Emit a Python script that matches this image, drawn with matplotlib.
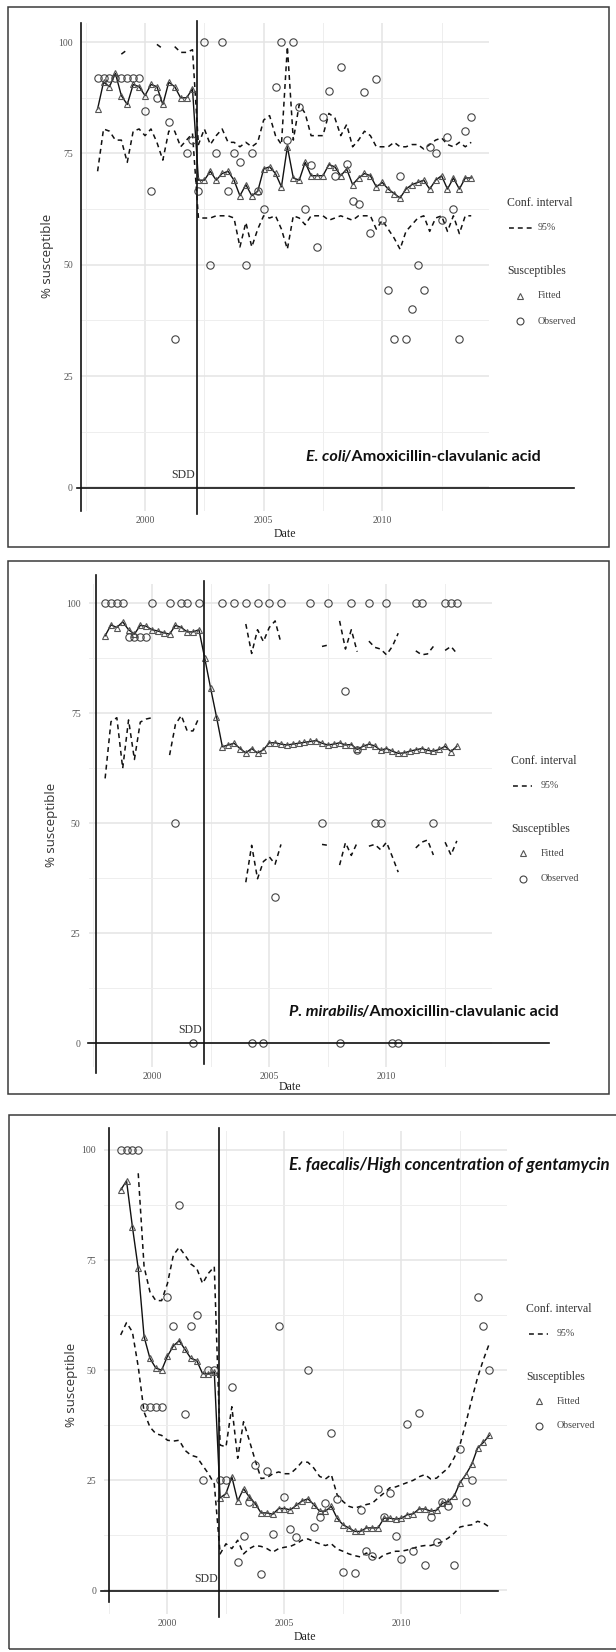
import numpy as np
import matplotlib
matplotlib.use("Agg")
import matplotlib.pyplot as plt
from matplotlib.lines import Line2D
from matplotlib.patches import Rectangle

W, H = 616, 1652
nan = np.nan

# quarterly time axis
quarters = 1998 + 0.25 * np.arange(64)
sdd_date = 2002.2

# E. coli / amoxicillin-clavulanic acid
ecoli_fitted = [85, 91, 90, 93, 88, 86, 90.5, 90, 88, 90.5, 90, 86, 91, 90, 87.5, 87.5, 89.5,
                69, 69, 71, 69, 70.5, 71, 69, 65.5, 68, 65.5, 66.5, 71.5, 72, 70.5, 67.5,
                76.5, 69.5, 69, 73, 70, 70, 70, 72.5, 72, 70, 71.5, 68, 69.5, 70.5, 70, 67.5,
                68.5, 67, 66, 65, 67, 68, 68.5, 69, 67, 69, 70, 67, 69.5, 67, 69.5, 69.5]
ecoli_upper = [nan, nan, nan, nan, 97.3, 98.3, nan, nan, nan, nan, 99.5, 98.5, nan, 99, 97.7, 97.7, 98.3,
               77, 80.5, 77, 79, 80.5, 77.5, 77.5, 76.5, 77.5, 76.5, 77.5, 82.5, 83.5, 79, 77,
               99, 78, 86, 84, 79, 79, 79, 84, 83, 79, 81.5, 76.5, 78, 80, 79, 76.5,
               76.5, 76.5, 77.5, 76.5, 76.5, 77, 77, 76, 77, 78, 78.5, 77, 76.5, 77.5, 76.5, 77.5]
ecoli_lower = [71, 80.5, 80, 78, 78, 73, 80, 80.5, 79, 80.5, 77.5, 73.5, 80, 80, 76.5, 78, 79.5,
               60.5, 60.5, 60.5, 61, 61, 61, 60.5, 54, 59.5, 54, 58, 61, 60.5, 61, 58,
               53.5, 61, 60.5, 59, 61, 61, 61, 60, 60.5, 61, 60.5, 60, 61, 61, 61, 58,
               60, 58, 56, 53.5, 57.5, 59, 60.5, 61, 57.5, 60.5, 61, 57.5, 61, 57, 61, 61]
ecoli_observed = [92, 92, 92, 92, 92, 92, 92, 92, 84.5, 66.5, 87.5, nan, 82, 33.3, nan, 75, 78,
                  66.5, 100, 50, 75, 100, 66.5, 75, 73, 50, 75, 66.5, 62.5, nan, 90, 100,
                  78, 100, 85.5, 62.5, 72.5, 54, 83.3, 89, 70, 94.4, 72.7, 64.3, 63.6, 88.9, 57.1, 91.7,
                  60, 44.4, 33.3, 70, 33.3, 40, 50, 44.4, 76.5, 75, 60, 78.6, 62.5, 33.3, 80, 83.3]

# P. mirabilis / amoxicillin-clavulanic acid (1998.0 - 2013.0)
pmir_fitted = [92.6, 95.1, 94.5, 95.8, 94, 93, 95, 94.8, 94, 93.7, 93.3, 93, 95, 94.5, 93.5, 93.5,
               94, 87.5, 80.7, 74.2, 67.4, 67.8, 68.2, 67, 66, 67, 66, 66.7, 68.3, 68.3, 68, 67.8,
               68, 68.2, 68.4, 68.6, 68.8, 68.2, 67.8, 68, 68.3, 67.8, 67.9, 66.8, 67.5, 68, 67.6, 66.6,
               67, 66.4, 65.9, 66, 66.4, 66.7, 67, 66.6, 66.4, 66.8, 67.5, 66.3, 67.5]
pmir_upper = [nan] * 24 + [95.3, 88.6, 94, 91.3, 94.5, 96, 91, nan, nan, nan, nan, nan,
                           nan, 90.2, 90.5, nan, 96, 89.6, 94, 89, nan, 91.4, 90, 89.6,
                           88.3, 90.2, 93.2, nan, nan, 89.2, 88.3, 88.5, 90.2, nan, 89.3, 90.2, 88.6]
pmir_lower = [60.2, 73.1, 74, 62.5, 73.5, 64.5, 73, 73.7, 74, nan, nan, 65.5, 72.5, 74.5, 71, 71,
              74, nan, nan, nan, nan, nan, nan, nan, 36.6, 45, 37.4, 41.3, 42.4, 40.7, 45.2, nan,
              nan, nan, nan, nan, nan, 45.2, 45, nan, 40.5, 45.6, 42.7, 45.6, nan, 44.8, 45.2, 44,
              45.7, 42.4, 38.9, nan, nan, 44.4, 45.7, 46.2, 42.8, nan, 45.7, 42.8, 46]
pmir_observed = [100, 100, 100, 100, 92.3, 92.3, 92.3, 92.3, 100, nan, nan, 100, 50, 100, 100, 0,
                 100, nan, nan, nan, 100, nan, 100, nan, 100, 0, 100, 0, 100, 33.3, 100, nan,
                 nan, nan, nan, 100, nan, 50, 100, nan, 0, 80, 100, 66.7, nan, 100, 50, 50,
                 100, 0, 0, nan, nan, 100, 100, nan, 50, nan, 100, 100, 100]

# E. faecalis / high concentration of gentamycin
efae_fitted = [90.9, 93, 82.6, 73.1, 57.6, 52.7, 50.5, 50, 53.2, 55.5, 56.7, 54.7, 52.7, 52.2, 49.2, 49.2,
               49.6, 21, 22, 25.8, 20.3, 23.1, 21.2, 19.7, 17.6, 17.6, 17.3, 18.6, 18.6, 18.3, 19.3, 20.3,
               20.8, 19.5, 18, 18, 19.1, 16.4, 14.9, 14.2, 13.4, 13.4, 14.2, 14.2, 14.2, 16.4, 16.4, 16.2,
               16.4, 17.2, 17.4, 18.5, 18.5, 18, 18.2, 19.8, 20.2, 21.4, 24.5, 26.3, 28.6, 32.3, 33.6, 35.2]
efae_upper = [nan, nan, nan, 94.7, 73.5, 67.8, 65.8, 65.8, 69.7, 76.1, 77.9, 76.1, 74.1, 73.1, 69.7, 72,
              73.5, 33, 32.6, 41.7, 30, 38.3, 34, 29.5, 25.4, 25.6, 26.5, 26.9, 26.5, 26.5, 27.7, 29.2,
              29.1, 27.8, 25.9, 25.3, 26.3, 21.7, 20.2, 19.1, 18.7, 19.1, 19.5, 19.8, 21, 22.1, 23.3, 23.5,
              24, 24.5, 25, 25.8, 26.3, 25.3, 25.5, 26.7, 27.8, 30.1, 33.1, 38, 43.3, 48.3, 52.4, 56]
efae_lower = [58, 60.8, 58.7, 50.8, 40.5, 37.1, 35.6, 35.2, 34.1, 33.9, 34.1, 31.8, 30.7, 30.3, 28.4, 26.5,
              24.2, 8.3, 10.6, 9.5, 11.4, 8.3, 9.5, 10.2, 10, 9.5, 8.7, 9.5, 9.8, 10, 10.6, 11.4,
              11.7, 11.1, 10.6, 10.2, 10.6, 9.4, 8.9, 8.3, 7.9, 7.6, 8.5, 7.7, 7.1, 8.1, 8.5, 8.9,
              8.9, 9.2, 9.6, 10, 10.2, 10.2, 10.6, 11.1, 11.9, 13, 14.4, 14.7, 14.9, 15.7, 15.3, 14.4]
efae_observed = [100, 100, 100, 100, 41.7, 41.7, 41.7, 41.7, 66.7, 60, 87.5, 40, 60, 62.5, 25, 50,
                 50, 25, 25, 46.1, 6.4, 12.3, 20, 28.4, 3.8, 27.1, 12.9, 60, 21.2, 14, 12.1, nan,
                 50, 14.4, 16.7, 19.8, 35.8, 20.8, 4.1, nan, 3.9, 18.2, 8.9, 7.9, 23, 16.7, 22.1, 12.4,
                 7.1, 37.7, 8.9, 40.2, 5.8, 16.7, 11.1, 20, 19.1, 5.8, 32, 20, 25, 66.7, 60, 50]

SERIF = "Liberation Serif"

fig = plt.figure(figsize=(W / 100, H / 100), dpi=100)


def fx(x):
    return x / W


def fy(y):
    return 1 - y / H


def fig_line(x0, y0, x1, y1, **kw):
    fig.add_artist(Line2D([fx(x0), fx(x1)], [fy(y0), fy(y1)], transform=fig.transFigure, **kw))


def fig_text(x, y, s, **kw):
    return fig.text(fx(x), fy(y), s, **kw)


def draw_panel(p, fitted, upper, lower, observed):
    # outer frame
    l, t, r, b = p["frame"]
    fig.add_artist(Rectangle((fx(l), fy(b)), (r - l) / W, (b - t) / H, transform=fig.transFigure,
                             fill=False, ec="#3a3a3a", lw=1.1))
    l, t, r, b = p["axes"]
    ax = fig.add_axes([fx(l), fy(b), (r - l) / W, (b - t) / H])
    n = len(fitted)
    x = quarters[:n]
    ax.plot(x, upper, color="#111111", lw=1.1, ls=(0, (3.2, 2.6)))
    ax.plot(x, lower, color="#111111", lw=1.1, ls=(0, (3.2, 2.6)))
    ax.plot(x, fitted, color="#111111", lw=1.0, marker="^", ms=5, mfc="none", mec="#555555", mew=0.8)
    ax.plot(x, observed, ls="none", marker="o", ms=5.3, mfc="none", mec="#444444", mew=0.8, clip_on=False)
    ax.plot([sdd_date, sdd_date], p["sdd_y"], color="#111111", lw=1.2, clip_on=False)

    ax.set_xlim(1997.3, 2014.5)
    ax.set_ylim(-5.3, 104.3)
    ax.set_xticks([2000, 2005, 2010])
    ax.set_xticks([1997.5, 2002.5, 2007.5, 2012.5], minor=True)
    ax.set_yticks([0, 25, 50, 75, 100])
    ax.set_yticks([12.5, 37.5, 62.5, 87.5], minor=True)
    ax.grid(which="major", color="#e4e4e4", lw=1.1)
    ax.grid(which="minor", color="#eeeeee", lw=0.7)
    ax.set_axisbelow(True)
    for s in ax.spines.values():
        s.set_visible(False)
    ax.tick_params(which="both", length=0, labelcolor="#555555", labelsize=7)
    ax.tick_params(axis="y", pad=5.8)
    ax.tick_params(axis="x", pad=3.8)
    for lab in ax.get_xticklabels() + ax.get_yticklabels():
        lab.set_fontfamily(SERIF)

    # hand-drawn axis lines
    xa, ya0, ya1 = p["yline"]
    fig_line(xa, ya0, xa, ya1, color="#111111", lw=1.2)
    yb, xb0, xb1 = p["xline"]
    fig_line(xb0, yb, xb1, yb, color="#111111", lw=1.2)

    fig_text(*p["date"], "Date", family=SERIF, fontsize=8.5, color="#222222", ha="center", va="center")
    fig_text(*p["ylab"], "% susceptible", family="Open Sans", fontsize=9.5, color="#333333",
             rotation=90, ha="center", va="center")
    fig_text(*p["sdd"], "SDD", family=SERIF, fontsize=8.5, color="#333333", ha="right", va="center")

    # legend
    lg = p["legend"]
    tx = lg["x"]
    fig_text(tx, lg["conf"], "Conf. interval", family=SERIF, fontsize=8.5, color="#333333", va="center")
    fig_line(lg["k0"], lg["ci"], lg["k1"], lg["ci"], color="#111111", lw=1.1, ls=(0, (3.2, 2.6)))
    fig_text(lg["lab"], lg["ci"], "95%", family=SERIF, fontsize=7.2, color="#444444", va="center")
    fig_text(tx, lg["sus"], "Susceptibles", family=SERIF, fontsize=8.5, color="#333333", va="center")
    fig.add_artist(Line2D([fx(lg["m"])], [fy(lg["fit"])], transform=fig.transFigure, ls="none",
                          marker="^", ms=5, mfc="none", mec="#555555", mew=0.8))
    fig_text(lg["lab"], lg["fit"], "Fitted", family=SERIF, fontsize=7.2, color="#444444", va="center")
    fig.add_artist(Line2D([fx(lg["m"])], [fy(lg["obs"])], transform=fig.transFigure, ls="none",
                          marker="o", ms=5, mfc="none", mec="#444444", mew=0.8))
    fig_text(lg["lab"], lg["obs"], "Observed", family=SERIF, fontsize=7.2, color="#444444", va="center")

    # title annotation
    ax_x, ax_y = p["title_xy"]
    renderer = fig.canvas.get_renderer()
    cur = ax_x
    for txt, style in p["title"]:
        t = fig_text(cur, ax_y, txt, family="Lato", weight="bold", style=style, fontsize=p["title_size"],
                     color="#111111", va="center")
        bb = t.get_window_extent(renderer)
        cur = bb.x1 - 2
    return ax


panels = [
    dict(frame=(8, 7, 609, 547), axes=(81, 23, 489, 511), sdd_y=(-6, 104.8),
         yline=(81, 23, 511), xline=(487.5, 77, 574),
         date=(285, 534), ylab=(47, 256), sdd=(195, 475),
         legend=dict(x=507, conf=203, ci=228, sus=271, fit=296, obs=321, k0=509, k1=532, m=519.5, lab=538),
         title_xy=(306, 457), title_size=11.6,
         title=[("E. coli", "italic"), ("/Amoxicillin-clavulanic acid", "normal")]),
    dict(frame=(8, 561, 609, 1094), axes=(88.7, 584.4, 492, 1066.6), sdd_y=(-4.7, 105),
         yline=(95.5, 575, 1073), xline=(1043.3, 88, 549),
         date=(290, 1087), ylab=(51, 825), sdd=(202, 1030),
         legend=dict(x=511, conf=761, ci=786, sus=829, fit=853, obs=878.5, k0=513, k1=532, m=522.6, lab=541),
         title_xy=(289, 1012), title_size=11.6,
         title=[("P. mirabilis", "italic"), ("/Amoxicillin-clavulanic acid", "normal")]),
    dict(frame=(9, 1115, 630, 1649), axes=(104.3, 1131, 506.8, 1613.8), sdd_y=(-6, 105),
         yline=(109, 1127.5, 1602), xline=(1590.5, 101, 498),
         date=(305, 1637), ylab=(71, 1385), sdd=(218, 1579),
         legend=dict(x=526, conf=1309, ci=1333.5, sus=1377, fit=1401, obs=1426, k0=528.5, k1=548, m=539, lab=557),
         title_xy=(289, 1165), title_size=12.2,
         title=[("E. faecalis/High concentration of gentamycin", "italic")]),
]

draw_panel(panels[0], ecoli_fitted, ecoli_upper, ecoli_lower, ecoli_observed)
draw_panel(panels[1], pmir_fitted, pmir_upper, pmir_lower, pmir_observed)
draw_panel(panels[2], efae_fitted, efae_upper, efae_lower, efae_observed)

fig.savefig("out.png", dpi=100)
